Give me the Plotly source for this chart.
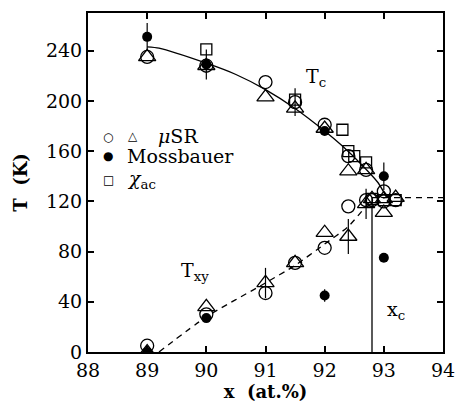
import plotly.graph_objects as go

# ---- data ----
musr_circ_x = [89, 90, 91, 91.5, 92, 92.4, 92.7, 92.8, 93.0, 93.2,
               89, 90, 91, 91.5, 92, 92.4, 92.7, 93.0]
musr_circ_y = [235, 228, 215, 199, 181, 156, 145, 121, 128, 121,
               5, 30, 47, 71, 83, 116, 121, 120]
musr_circ_err = [0, 0, 0, 11, 0, 0, 0, 0, 0, 0,
                 0, 0, 0, 0, 0, 0, 0, 0]

musr_tri_x = [89, 90, 91, 91.5, 92, 92.4, 92.7, 92.8, 93.0, 93.2,
              89, 90, 91, 91.5, 92, 92.4, 92.7, 93.0]
musr_tri_y = [235, 228, 203, 194, 178, 144, 145, 122, 122, 123,
              0, 36, 55, 71, 95, 92, 118, 111]
musr_tri_err = [0, 0, 0, 0, 0, 0, 0, 0, 0, 0,
                0, 0, 12, 0, 0, 14, 12, 0]

moss_x = [89, 90, 92, 93.0, 89, 90, 92, 93.0]
moss_y = [251, 229, 176, 140, 0, 27, 45, 75]
moss_err = [11, 12, 0, 11, 0, 0, 5, 0]

chi_x = [90, 91.5, 92.3, 92.4, 92.5, 92.7, 92.8, 93.0, 93.2]
chi_y = [241, 201, 177, 160, 156, 151, 122, 121, 121]

tc_line_x = [89, 89.2, 90, 90.5, 91, 91.5, 92, 92.3, 92.65, 92.9, 93.05]
tc_line_y = [243, 242, 230, 221, 209, 194, 176, 164, 148, 135, 123]

txy_line_x = [89.2, 90, 91, 91.5, 92, 92.4, 92.8]
txy_line_y = [0, 28, 55, 69, 86, 100, 122]

plateau_x = [92.8, 94]
plateau_y = [123, 123]

xc_x = [92.8, 92.8]
xc_y = [0, 123]

x_ticks = [88, 89, 90, 91, 92, 93, 94]
y_ticks = [0, 40, 80, 120, 160, 200, 240]

FONT = "DejaVu Serif"

fig = go.Figure()

fig.add_trace(go.Scatter(x=tc_line_x, y=tc_line_y, mode="lines",
                         line=dict(color="black", width=1.3, shape="spline", smoothing=0.6),
                         showlegend=False))
fig.add_trace(go.Scatter(x=txy_line_x, y=txy_line_y, mode="lines",
                         line=dict(color="black", width=1.3, dash="6px,5px", shape="spline", smoothing=0.6),
                         showlegend=False))
fig.add_trace(go.Scatter(x=plateau_x, y=plateau_y, mode="lines",
                         line=dict(color="black", width=1.3, dash="6px,5px"),
                         showlegend=False))
fig.add_trace(go.Scatter(x=xc_x, y=xc_y, mode="lines",
                         line=dict(color="black", width=1.3),
                         showlegend=False))


def err(a):
    return dict(type="data", array=a, visible=True, color="black", thickness=1.2, width=0)


fig.add_trace(go.Scatter(x=musr_circ_x, y=musr_circ_y, mode="markers",
                         error_y=err(musr_circ_err),
                         marker=dict(symbol="circle-open", size=13, color="black", line=dict(width=1.3)),
                         showlegend=False))
fig.add_trace(go.Scatter(x=musr_tri_x, y=musr_tri_y, mode="markers",
                         error_y=err(musr_tri_err),
                         marker=dict(symbol="triangle-up-open", size=15, color="black", line=dict(width=1.3)),
                         showlegend=False))
fig.add_trace(go.Scatter(x=moss_x, y=moss_y, mode="markers",
                         error_y=err(moss_err),
                         marker=dict(symbol="circle", size=10, color="black"),
                         showlegend=False))
fig.add_trace(go.Scatter(x=chi_x, y=chi_y, mode="markers",
                         marker=dict(symbol="square-open", size=11, color="black", line=dict(width=1.3)),
                         showlegend=False))

ann = []


def add_text(x, y, t, size=18, xanchor="center"):
    ann.append(dict(x=x, y=y, xref="x", yref="y", text=t, showarrow=False,
                    font=dict(family=FONT, size=size, color="black"), xanchor=xanchor))


add_text(91.85, 219, "T<sub>c</sub>", size=19)
add_text(89.8, 64, "T<sub>xy</sub>", size=19)
add_text(93.2, 33, "x<sub>c</sub>", size=19)

# legend (symbols + labels)
add_text(88.34, 171, "○", size=12)
add_text(88.76, 172, "△", size=12)
add_text(89.15, 172, "<i>μ</i>SR", size=19, xanchor="left")
add_text(88.34, 156, "●", size=12)
add_text(88.62, 156, "Mossbauer", size=19, xanchor="left")
add_text(88.34, 137, "□", size=12)
add_text(88.62, 137, "<i>χ</i><sub>ac</sub>", size=19, xanchor="left")

fig.update_layout(
    width=457, height=402,
    margin=dict(l=88, r=14, t=13, b=50),
    paper_bgcolor="white", plot_bgcolor="white",
    font=dict(family=FONT, size=18, color="black"),
    annotations=ann,
    xaxis=dict(range=[88, 94], tickvals=x_ticks, ticktext=[str(v) for v in x_ticks],
               automargin=False,
               showgrid=False, zeroline=False, showline=True, linecolor="black", linewidth=2,
               mirror="ticks", ticks="inside", ticklen=6, tickwidth=1.5, tickcolor="black",
               tickfont=dict(family=FONT, size=19),
               title=dict(text="<b>x  (at.%)</b>", font=dict(family=FONT, size=18), standoff=9)),
    yaxis=dict(range=[0, 270], tickvals=y_ticks, ticktext=[str(v) for v in y_ticks],
               automargin=False,
               showgrid=False, zeroline=False, showline=True, linecolor="black", linewidth=2,
               mirror="ticks", ticks="inside", ticklen=6, tickwidth=1.5, tickcolor="black",
               tickfont=dict(family=FONT, size=19),
               title=dict(text="<b>T  (K)</b>", font=dict(family=FONT, size=18), standoff=14)),
)

fig.write_html("out.html")
